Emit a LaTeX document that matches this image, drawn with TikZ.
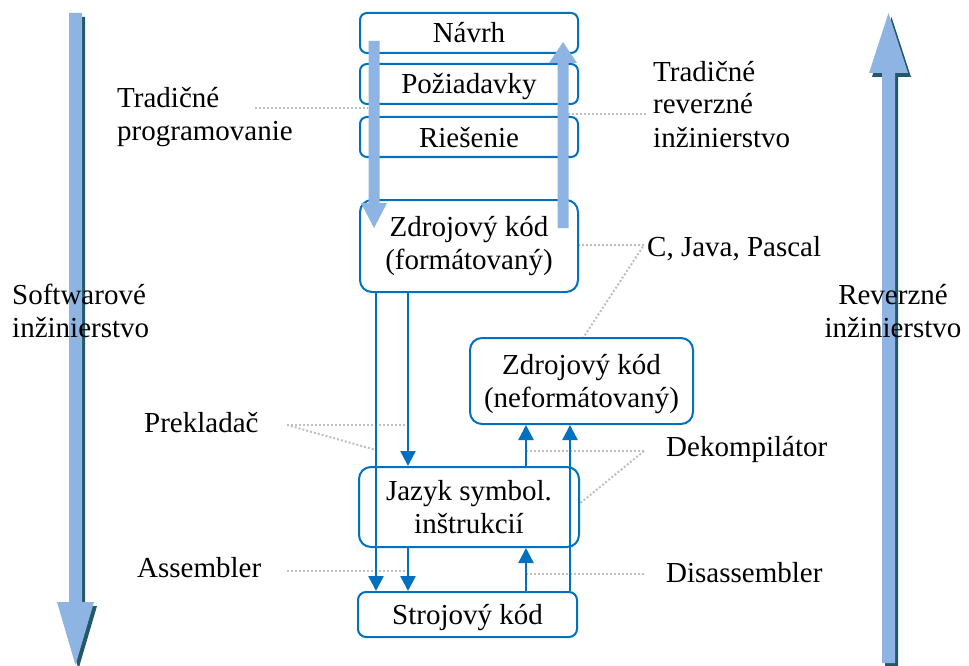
\documentclass[tikz,border=0pt]{standalone}
\usepackage{fontspec}
\setmainfont{Liberation Serif}
\usetikzlibrary{arrows.meta}
\definecolor{blu}{HTML}{0070C0}
\definecolor{lblu}{HTML}{8EB4E3}
\definecolor{shd}{HTML}{215968}
\definecolor{dotg}{HTML}{BFBFBF}
\newcommand\topstr{\rule{0pt}{27pt}}
\newcommand\botstr{\rule[-7pt]{0pt}{7pt}}
\newcommand\botstrb{\rule[-13pt]{0pt}{13pt}}
\begin{document}
\begin{tikzpicture}[x=1pt,y=-1pt,
  lbl/.style={font=\rmfamily\fontsize{29}{33}\selectfont, inner sep=0pt, text=black},
  box/.style={lbl, draw=blu, line width=2pt, fill=white, align=center},
  dots/.style={draw=dotg, line width=2pt, dash pattern=on 2pt off 2pt},
  conn/.style={draw=blu, line width=2.5pt, -{Triangle[width=15pt,length=15pt]}},
  bigarrow/.style={fill=lblu},
  bigshadow/.style={fill=shd}
]
\useasboundingbox (0,0) rectangle (969,666);

% big side arrows with shadows
\fill[bigshadow] (72,17) -- (85,17) -- (85,606) -- (97,606) -- (78.5,669) -- (60,606) -- (72,606) -- cycle;
\fill[bigarrow] (69,13) -- (82,13) -- (82,602) -- (94,602) -- (75.5,665) -- (57,602) -- (69,602) -- cycle;
\fill[bigshadow] (891.5,17) -- (911,77) -- (898,77) -- (898,667) -- (885,667) -- (885,77) -- (872,77) -- cycle;
\fill[bigarrow] (888.5,13) -- (908,73) -- (895,73) -- (895,663) -- (882,663) -- (882,73) -- (869,73) -- cycle;

% labels
\node[lbl, anchor=west, align=left] (tp) at (117,114.5) {\topstr Tradičné\\programovanie\botstr};
\node[lbl, anchor=west, align=left] (tr) at (653,104) {\topstr Tradičné\\reverzné\\inžinierstvo\botstr};
\node[lbl, anchor=west] (cj) at (647,246) {\topstr C, Java, Pascal\botstr};
\node[lbl, anchor=west, align=left] (sw) at (12,310.5) {\topstr Softwarové\\inžinierstvo\botstr};
\node[lbl, align=center] (re) at (893,310.5) {\topstr Reverzné\\inžinierstvo\botstr};
\node[lbl, anchor=west] (pk) at (144,422) {\topstr Prekladač\botstr};
\node[lbl, anchor=west] (as) at (137,567) {\topstr Assembler\botstr};
\node[lbl, anchor=west] (dk) at (666,446) {\topstr Dekompilátor\botstr};
\node[lbl, anchor=west] (ds) at (666,572) {\topstr Disassembler\botstr};

% connector x positions
\coordinate (a1) at (376,0);
\coordinate (a2) at (408,0);
\coordinate (a3) at (526,0);
\coordinate (a4) at (570,0);

% dotted leader lines
\coordinate (tp1) at (255,108); \coordinate (tp2) at (368,108);
\draw[dots] (tp1) -- (tp2);
\coordinate (tr1) at (568,114); \coordinate (tr2) at (646,114);
\draw[dots] (tr1) -- (tr2);
\coordinate (cj0) at (644,245); \coordinate (cj1) at (578,245); \coordinate (cj2) at (583,338);
\draw[dots] (cj1) -- (cj0) -- (cj2);
\coordinate (pk0) at (287,425); \coordinate (pk2) at (376,450);
\draw[dots] (pk0) -- (a2 |- pk0);
\draw[dots] (pk0) -- (pk2);
\coordinate (as0) at (287,571);
\draw[dots] (as0) -- (a2 |- as0);
\coordinate (dk0) at (644,451); \coordinate (dk2) at (578,505);
\draw[dots] (dk0) -- (a3 |- dk0);
\draw[dots] (dk0) -- (dk2);
\coordinate (ds0) at (644,574);
\draw[dots] (ds0) -- (a3 |- ds0);

% boxes
\node[box, minimum width=218pt, minimum height=40pt, rounded corners=7pt] (nv) at (469,33) {\topstr Návrh\botstr};
\node[box, minimum width=218pt, minimum height=40pt, rounded corners=7pt] (pz) at (469,84) {\topstr Požiadavky\botstr};
\node[box, minimum width=218pt, minimum height=40pt, rounded corners=7pt] (rs) at (469,137) {\topstr Riešenie\botstr};
\node[box, minimum width=218pt, minimum height=92pt, rounded corners=12pt] (zf) at (469,246) {\topstr Zdrojový kód\\(formátovaný)\botstrb};
\node[box, minimum width=223pt, minimum height=86pt, rounded corners=12pt] (zn) at (581.5,381) {\topstr Zdrojový kód\\(neformátovaný)\botstr};
\node[box, minimum width=220pt, minimum height=80pt, rounded corners=12pt] (js) at (469,507) {\topstr Jazyk symbol.\\inštrukcií\botstr};
\node[box, minimum width=219pt, minimum height=45pt, rounded corners=8pt] (sk) at (467.5,614.5) {\topstr Strojový kód\botstr};

% blue connectors
\draw[conn] (a1 |- zf.south) -- (a1 |- sk.north);
\draw[conn] (a2 |- zf.south) -- (a2 |- js.north);
\draw[conn] (a2 |- js.south) -- (a2 |- sk.north);
\draw[conn] (a3 |- js.north) -- (a3 |- zn.south);
\draw[conn] (a3 |- sk.north) -- (a3 |- js.south);
\draw[conn] (a4 |- sk.north) -- (a4 |- zn.south);

% inner big arrows
\fill[bigarrow] (368.5,41) -- (379.5,41) -- (379.5,203) -- (387,203) -- (374,228) -- (361,203) -- (368.5,203) -- cycle;
\fill[bigarrow] (563,42) -- (577,63) -- (568.5,63) -- (568.5,228) -- (557.5,228) -- (557.5,63) -- (549,63) -- cycle;
\end{tikzpicture}
\end{document}
